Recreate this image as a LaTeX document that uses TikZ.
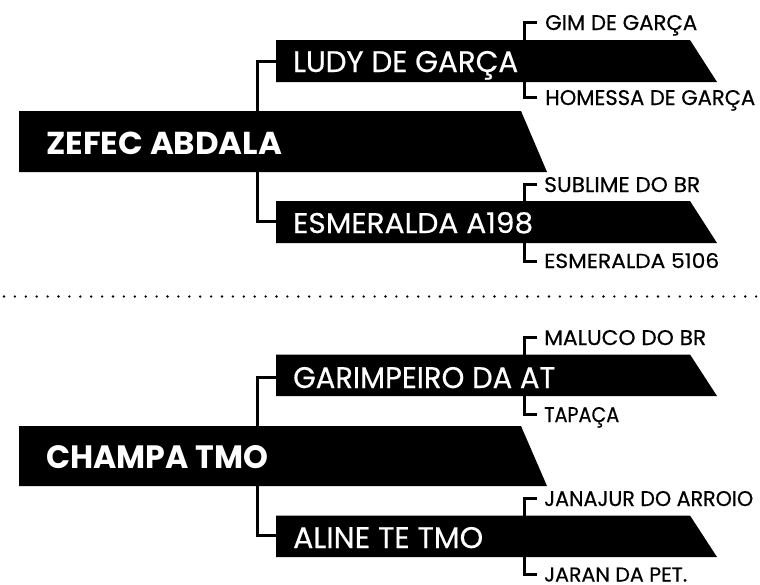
\documentclass[tikz,border=0pt]{standalone}
\usepackage{graphicx}
\usepackage{fontspec}
\setmainfont{Poppins}
\newfontfamily\pedmed{Poppins}[FakeBold=0.5]
\newcommand\fitcaps[3]{\resizebox{#1pt}{#2pt}{#3}}
\begin{document}
\begin{tikzpicture}[x=1pt,y=-1pt]
\tikzset{
  conn/.style={line width=3pt},
  rootlbl/.style={font=\bfseries\fontsize{32}{34}\selectfont, text=white, anchor=base west, inner sep=0pt},
  midlbl/.style={font=\pedmed\fontsize{29}{32}\selectfont, text=white, anchor=base west, inner sep=0pt},
  smalllbl/.style={font=\pedmed\fontsize{21}{24}\selectfont, text=black, anchor=base west, inner sep=0pt},
  sep/.style={line width=2.6pt, line cap=round, dash pattern=on 0pt off 10.9pt}
}
\useasboundingbox (0,0) rectangle (760,584);
% ---------- top pedigree ----------
\fill (19,111) coordinate (zefec-nw) -- (521,111) -- (547,172) -- (19,172) coordinate (zefec-sw) -- cycle;
\fill (276,40) coordinate (ludy-nw) -- (690,40) -- (717,82) -- (276,82) coordinate (ludy-sw) -- cycle;
\fill (276,201) coordinate (esme-nw) -- (690,201) -- (717,243) -- (276,243) coordinate (esme-sw) -- cycle;
\coordinate (ludy-w) at (276,61.5);
\coordinate (esme-w) at (276,221.5);
\coordinate (zefec-n) at (257,111);
\coordinate (zefec-s) at (257,172);
\coordinate (ludy-n) at (524,40);
\coordinate (ludy-s) at (524,82);
\coordinate (esme-n) at (524,201);
\coordinate (esme-s) at (524,243);
\node[rootlbl] (zefec) at (46,154) {\fitcaps{236}{22.5}{ZEFEC ABDALA}};
\node[midlbl] (ludy) at (293,72) {\fitcaps{225}{21}{LUDY DE GARÇA}};
\node[midlbl] (esme) at (293,233) {\fitcaps{240}{21}{ESMERALDA A198}};
\node[smalllbl] (gim) at (545,30) {\fitcaps{152}{15}{GIM DE GARÇA}};
\node[smalllbl] (homessa) at (545,105) {\fitcaps{210}{15}{HOMESSA DE GARÇA}};
\node[smalllbl] (sublime) at (544,192) {\fitcaps{156}{15}{SUBLIME DO BR}};
\node[smalllbl] (esme5106) at (544,268) {\fitcaps{175}{15}{ESMERALDA 5106}};
\coordinate (gim-t) at (537,22.5);
\coordinate (homessa-t) at (537,97.5);
\coordinate (sublime-t) at (537,184);
\coordinate (esme5106-t) at (537,261);
\draw[conn] (ludy-w) -| (zefec-n);
\draw[conn] (esme-w) -| (zefec-s);
\draw[conn] (gim-t) -| (ludy-n);
\draw[conn] (homessa-t) -| (ludy-s);
\draw[conn] (sublime-t) -| (esme-n);
\draw[conn] (esme5106-t) -| (esme-s);
% ---------- separator ----------
\coordinate (sep-l) at (4,296.5);
\coordinate (sep-r) at (760,296.5);
\draw[sep] (sep-l) -- (sep-r);
% ---------- bottom pedigree ----------
\fill (19,426) coordinate (champa-nw) -- (521,426) -- (547,486) -- (19,486) coordinate (champa-sw) -- cycle;
\fill (276,354.5) coordinate (gari-nw) -- (690,354.5) -- (717,396) -- (276,396) coordinate (gari-sw) -- cycle;
\fill (276,515.5) coordinate (aline-nw) -- (690,515.5) -- (717,557) -- (276,557) coordinate (aline-sw) -- cycle;
\coordinate (gari-w) at (276,377.5);
\coordinate (aline-w) at (276,535.5);
\coordinate (champa-n) at (257,426);
\coordinate (champa-s) at (257,486);
\coordinate (gari-n) at (524,354.5);
\coordinate (gari-s) at (524,396);
\coordinate (aline-n) at (524,515.5);
\coordinate (aline-s) at (524,557);
\node[rootlbl] (champa) at (46,468) {\fitcaps{222}{23}{CHAMPA TMO}};
\node[midlbl] (gari) at (293,388) {\fitcaps{262}{21}{GARIMPEIRO DA AT}};
\node[midlbl] (aline) at (293,548) {\fitcaps{190}{21}{ALINE TE TMO}};
\node[smalllbl] (maluco) at (544,345) {\fitcaps{162}{15}{MALUCO DO BR}};
\node[smalllbl] (tapaca) at (544,422) {\fitcaps{75}{15}{TAPAÇA}};
\node[smalllbl] (janajur) at (544,506) {\fitcaps{209}{15}{JANAJUR DO ARROIO}};
\node[smalllbl] (jaran) at (544,581.5) {\fitcaps{143}{14}{JARAN DA PET.}};
\coordinate (maluco-t) at (537,337.5);
\coordinate (tapaca-t) at (537,414.5);
\coordinate (janajur-t) at (537,498.5);
\coordinate (jaran-t) at (537,574.5);
\draw[conn] (gari-w) -| (champa-n);
\draw[conn] (aline-w) -| (champa-s);
\draw[conn] (maluco-t) -| (gari-n);
\draw[conn] (tapaca-t) -| (gari-s);
\draw[conn] (janajur-t) -| (aline-n);
\draw[conn] (jaran-t) -| (aline-s);
\end{tikzpicture}
\end{document}
